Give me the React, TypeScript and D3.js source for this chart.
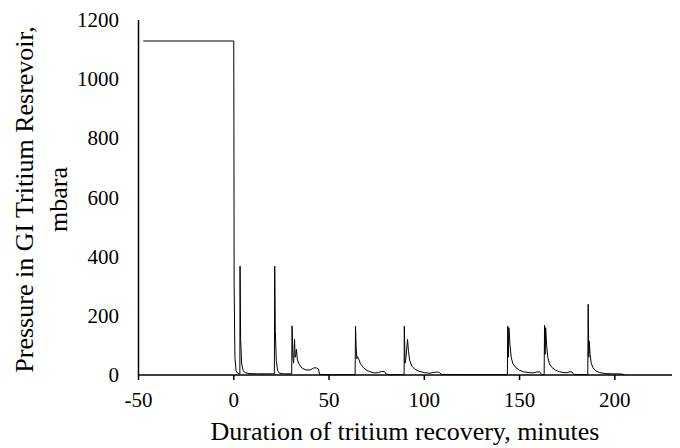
import React from 'react';
import * as d3 from 'd3';

// [minutes, mbara]
const plateau: [number, number][] = [
  [-47.5, 1129], [0, 1129], [0.2, 300], [0.6, 60], [1.2, 15], [2, 6], [3.2, 4],
];
const burst1: [number, number][] = [
  [3.3, 368], [3.6, 120], [4.1, 40], [4.9, 15], [6, 8], [8, 5], [12, 4], [18, 4], [21.3, 4],
];
const burst2: [number, number][] = [
  [21.5, 368], [21.8, 150], [22.3, 50], [23, 15], [24, 6], [26, 4], [30.4, 4],
];
const burst3: [number, number][] = [
  [30.6, 166], [31, 60], [31.4, 40], [31.9, 121], [32.2, 60], [32.6, 70], [32.9, 87],
  [33.3, 55], [34, 40], [35, 30], [36, 22], [38, 17], [40, 17], [41, 20], [42, 24],
  [43.5, 24], [44.5, 20], [45, 2], [50, 1], [63.7, 1],
];
const burst4: [number, number][] = [
  [63.9, 165], [64.2, 98], [64.6, 55], [65.0, 62], [65.5, 55], [66.5, 38], [68, 25],
  [70, 15], [72, 10], [74, 7], [76, 8], [77.5, 12], [79, 12], [80, 3], [82, 1], [89.4, 1],
];
const burst5: [number, number][] = [
  [89.5, 165], [89.9, 40], [90.4, 60], [91.2, 121], [91.7, 80], [92.3, 50], [93.5, 30],
  [95, 20], [97, 13], [100, 8], [103, 6], [105, 9], [107, 10], [108, 8], [109, 2],
  [120, 1], [143.6, 1],
];
const burst6: [number, number][] = [
  [143.8, 165], [144.1, 60], [144.4, 160], [145, 100], [145.6, 60], [146.5, 38], [148, 25],
  [150, 16], [152, 11], [155, 8], [157, 7], [159, 10], [160.5, 11], [161.5, 2], [162.9, 1],
];
const burst7: [number, number][] = [
  [163.1, 168], [163.4, 70], [163.7, 160], [164.2, 100], [164.8, 60], [165.7, 38], [167, 25],
  [169, 16], [171, 11], [173, 8], [175, 8], [176.5, 11], [177.5, 10], [178.5, 2], [185.8, 1],
];
const burst8: [number, number][] = [
  [186, 239], [186.3, 60], [186.6, 115], [187, 70], [187.6, 40], [188.5, 25], [190, 14],
  [192, 8], [195, 5], [198, 4], [202, 4], [204, 3], [205, 1],
];
const series = [plateau, burst1, burst2, burst3, burst4, burst5, burst6, burst7, burst8].flat();

const xTicks = [-50, 0, 50, 100, 150, 200];
const yTicks = [0, 200, 400, 600, 800, 1000, 1200];

const App = () => {
  const width = 680;
  const height = 448;
  const x = d3.scaleLinear().domain([-50, 230]).range([138.5, 672]);
  const y = d3.scaleLinear().domain([0, 1200]).range([375, 20]);

  const line = d3.line<[number, number]>()
    .x(d => x(d[0]))
    .y(d => y(d[1]));

  const font = '"Liberation Serif", "Times New Roman", serif';

  return (
    <svg width={width} height={height} style={{ position: 'absolute', left: 0, top: 0, background: '#fff' }}
      fontFamily={font}>
      <path d={line(series) || ''} fill="none" stroke="#000" strokeWidth={1} />

      {/* axes */}
      <line x1={x(-50)} x2={x(-50)} y1={y(1200)} y2={y(0)} stroke="#000" strokeWidth={1.5} />
      <line x1={x(-50)} x2={x(230)} y1={y(0)} y2={y(0)} stroke="#000" strokeWidth={1.5} />
      {xTicks.map(t => (
        <g key={t}>
          <line x1={x(t)} x2={x(t)} y1={y(0)} y2={y(0) + 5} stroke="#000" strokeWidth={1.5} />
          <text x={x(t)} y={y(0) + 32} textAnchor="middle" fontSize={21}>{t}</text>
        </g>
      ))}
      {yTicks.map(t => (
        <text key={t} x={119} y={y(t) + 7} textAnchor="end" fontSize={21}>{t}</text>
      ))}

      <text x={405} y={440} textAnchor="middle" fontSize={26}>Duration of tritium recovery, minutes</text>
      <g transform="translate(33,199.5) rotate(-90)">
        <text x={0} y={0} textAnchor="middle" fontSize={26}>Pressure in GI Tritium Resrevoir,</text>
        <text x={0} y={34} textAnchor="middle" fontSize={26}>mbara</text>
      </g>
    </svg>
  );
};

export default App;
